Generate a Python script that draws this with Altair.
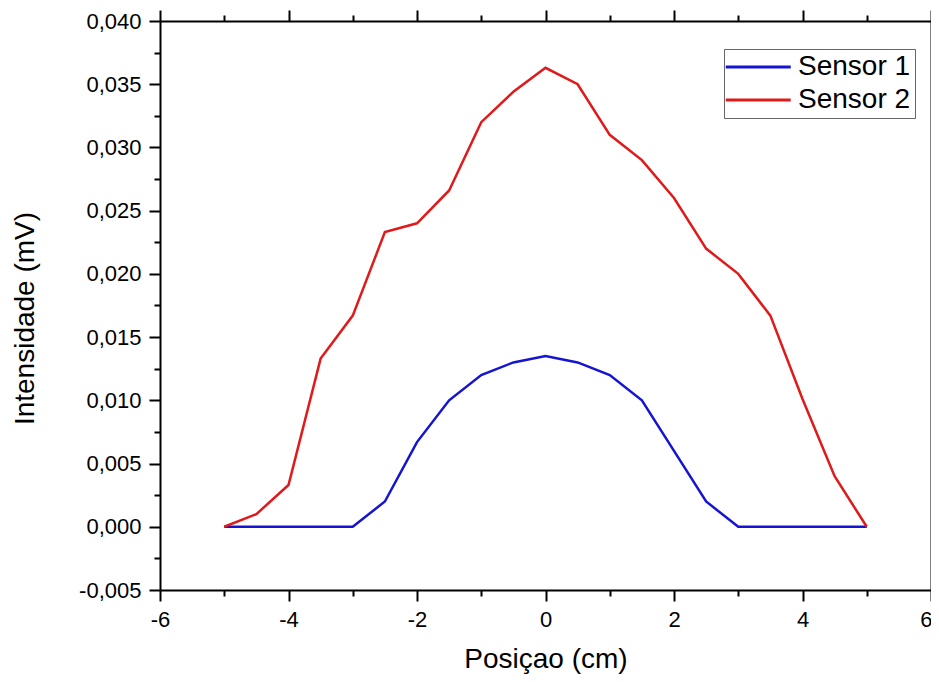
import altair as alt
import pandas as pd

# ---- data ----
positions = [-5, -4.5, -4, -3.5, -3, -2.5, -2, -1.5, -1, -0.5, 0,
             0.5, 1, 1.5, 2, 2.5, 3, 3.5, 4, 4.5, 5]
sensor1 = [0, 0, 0, 0, 0, 0.002, 0.0067, 0.010, 0.012, 0.013, 0.0135,
           0.013, 0.012, 0.010, 0.006, 0.002, 0, 0, 0, 0, 0]
sensor2 = [0, 0.001, 0.0033, 0.0133, 0.0167, 0.0233, 0.024, 0.0266, 0.032, 0.0344, 0.0363,
           0.035, 0.031, 0.029, 0.026, 0.022, 0.020, 0.0167, 0.0101, 0.004, 0]
series_names = ["Sensor 1", "Sensor 2"]
series_colors = ["#1414d2", "#e01a1a"]

x_ticks = [-6, -5, -4, -3, -2, -1, 0, 1, 2, 3, 4, 5, 6]
y_ticks = [-0.005, -0.0025, 0.0, 0.0025, 0.005, 0.0075, 0.01, 0.0125, 0.015,
           0.0175, 0.02, 0.0225, 0.025, 0.0275, 0.03, 0.0325, 0.035, 0.0375, 0.04]

rows = []
for name, vals in zip(series_names, [sensor1, sensor2]):
    for xv, yv in zip(positions, vals):
        rows.append({"x": xv, "y": yv, "series": name})
df = pd.DataFrame(rows)

FONT = "Liberation Sans"
xscale = alt.Scale(domain=[-6, 6], nice=False, zero=False)
yscale = alt.Scale(domain=[-0.005, 0.04], nice=False, zero=False)

x_major = "datum.value % 2 === 0"
y_major = "round(datum.value * 400) % 2 === 0"

common = dict(grid=False, domainColor="black", domainWidth=2, tickColor="black",
              tickWidth=2, labelFont=FONT, labelColor="black", labelOverlap=False,
              labelFlush=False, titleFont=FONT, titleColor="black",
              titleFontWeight="normal")

x_axis = alt.Axis(values=x_ticks, orient="bottom",
                  tickSize={"condition": {"test": x_major, "value": 11}, "value": 6},
                  labelExpr=f"{x_major} ? replace(format(datum.value, 'd'), '\u2212', '-') : ''",
                  labelAlign={"condition": {"test": "datum.value === 6", "value": "right"},
                              "value": "center"},
                  labelOffset={"condition": {"test": "datum.value === 6", "value": 1},
                               "value": 0},
                  labelFontSize=22, labelPadding=8, title="Posiçao (cm)",
                  titleFontSize=28, titleX=385.5, titleY=77,
                  titleBaseline="alphabetic", titleAnchor="middle", **common)
y_axis = alt.Axis(values=y_ticks, orient="left",
                  tickSize={"condition": {"test": y_major, "value": 11}, "value": 6},
                  labelExpr=f"{y_major} ? replace(replace(format(datum.value, '.3f'), '.', ','), '\u2212', '-') : ''",
                  labelFontSize=22, labelPadding=8, title="Intensidade (mV)",
                  titleFontSize=28, titleX=-127, titleY=297, titleAngle=270,
                  titleBaseline="alphabetic", titleAnchor="middle", **common)
x_top = alt.Axis(values=x_ticks, orient="top", labels=False, title=None,
                 tickSize={"condition": {"test": x_major, "value": 11}, "value": 6},
                 **common)
y_right = alt.Axis(values=y_ticks, orient="right", labels=False, title=None,
                   tickSize={"condition": {"test": y_major, "value": 11}, "value": 6},
                   **common)

frame = alt.Chart(df).mark_point(opacity=0).encode(
    x=alt.X("x:Q", scale=xscale, axis=x_top),
    y=alt.Y("y:Q", scale=yscale, axis=y_right),
)

lines = alt.Chart(df).mark_line(strokeWidth=2.5).encode(
    x=alt.X("x:Q", scale=xscale, axis=x_axis),
    y=alt.Y("y:Q", scale=yscale, axis=y_axis),
    color=alt.Color("series:N",
                    scale=alt.Scale(domain=series_names, range=series_colors),
                    legend=alt.Legend(orient="none", legendX=564, legendY=28,
                                      title=None, symbolType="M-1.5,0H4.5",
                                      symbolSize=469, symbolStrokeWidth=3,
                                      labelFontSize=28, labelFont=FONT,
                                      labelColor="black", labelOffset=42,
                                      labelLimit=0, padding=4, rowPadding=5,
                                      strokeColor="#666666", fillColor="white")),
    detail="series:N",
)

chart = alt.layer(frame, lines).resolve_axis(x="independent", y="independent").properties(
    width=771, height=569,
    autosize=alt.AutoSizeParams(type="none"),
    padding={"left": 152, "top": 13, "right": 0, "bottom": 84},
    background="white",
).configure_view(stroke=None)

chart.save("out.html", embed_options={"renderer": "svg", "actions": False})
